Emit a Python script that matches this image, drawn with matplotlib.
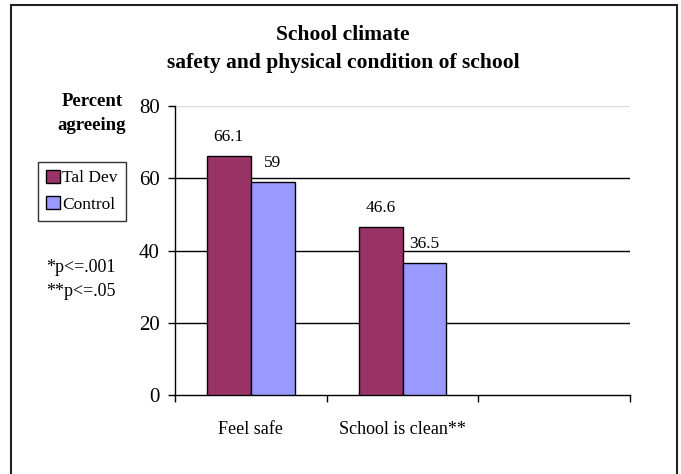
import numpy as np
import matplotlib
matplotlib.use("Agg")
import matplotlib.pyplot as plt
from matplotlib.patches import Rectangle, Patch

plt.rcParams['font.family'] = ['Liberation Serif', 'DejaVu Serif']

# data
categories = ["Feel safe", "School is clean**", ""]
series_names = ["Tal Dev", "Control"]
tal_dev = [66.1, 46.6]
control = [59, 36.5]
y_ticks = [0, 20, 40, 60, 80]
title_lines = ["School climate", "safety and physical condition of school"]
notes = ["*p<=.001", "**p<=.05"]

tal_color = "#993366"
ctl_color = "#9999FF"

fig = plt.figure(figsize=(6.81, 4.74), dpi=100)
ax = fig.add_axes([175 / 681, 1 - 395 / 474, 455 / 681, 289 / 474])

n_slots = len(categories)
w = 0.29
x1 = np.arange(len(tal_dev))
ax.bar(x1 - w / 2, tal_dev, width=w, color=tal_color, edgecolor="black", linewidth=1, zorder=3)
ax.bar(x1 + w / 2, control, width=w, color=ctl_color, edgecolor="black", linewidth=1, zorder=3)

for xs, vals in [(x1 - w / 2, tal_dev), (x1 + w / 2, control)]:
    for x, v in zip(xs, vals):
        ax.annotate(f"{v:g}", (x, v), xytext=(0, 8), textcoords="offset points",
                    ha="center", va="bottom", fontsize=12.5)

ax.set_xlim(-0.5, n_slots - 0.5)
ax.set_ylim(0, 80)
ax.set_yticks(y_ticks)
ax.set_yticklabels([str(t) for t in y_ticks], fontsize=15)
ax.tick_params(axis="y", length=5, width=1, pad=6, direction="out")

ax.set_xticks(np.arange(n_slots + 1) - 0.5)
ax.set_xticklabels([])
ax.set_xticks(np.arange(n_slots), minor=True)
ax.set_xticklabels(categories, minor=True, fontsize=13)
ax.tick_params(axis="x", which="major", length=5, width=1, direction="out")
ax.tick_params(axis="x", which="minor", length=0, pad=19)

for t in y_ticks[1:-1]:
    ax.axhline(t, color="black", linewidth=1, zorder=1)
ax.axhline(80, color="#dddddd", linewidth=1, zorder=1)

ax.spines["top"].set_visible(False)
ax.spines["right"].set_visible(False)
ax.spines["left"].set_linewidth(1)
ax.spines["bottom"].set_linewidth(1)
ax.spines["left"].set_color("black")
ax.spines["bottom"].set_color("black")

fig.text(343 / 681, 1 - 35 / 474, title_lines[0], ha="center", va="center",
         fontsize=15.5, fontweight="bold")
fig.text(343 / 681, 1 - 63 / 474, title_lines[1], ha="center", va="center",
         fontsize=15.5, fontweight="bold")

fig.text(92 / 681, 1 - 102 / 474, "Percent", ha="center", va="center",
         fontsize=13.5, fontweight="bold")
fig.text(92 / 681, 1 - 126 / 474, "agreeing", ha="center", va="center",
         fontsize=13.5, fontweight="bold")

fig.text(81 / 681, 1 - 267 / 474, notes[0], ha="center", va="center", fontsize=13)
fig.text(81 / 681, 1 - 291 / 474, notes[1], ha="center", va="center", fontsize=13)

handles = [Patch(facecolor=tal_color, edgecolor="black"),
           Patch(facecolor=ctl_color, edgecolor="black")]
leg = fig.legend(handles, series_names, loc="upper left",
                 bbox_to_anchor=(38 / 681, 1 - 162 / 474), fontsize=12.5,
                 frameon=True, fancybox=False, handlelength=0.8, handleheight=0.8,
                 handletextpad=0.15, labelspacing=0.55, borderpad=0.45, borderaxespad=0)
leg.get_frame().set_edgecolor("black")
leg.get_frame().set_linewidth(1)

fig.patches.append(Rectangle((11 / 681, -0.05), 666 / 681, 1.05 - 5 / 474,
                             transform=fig.transFigure, fill=False,
                             edgecolor="#222222", linewidth=1.5))

fig.savefig("out.png", dpi=100)
